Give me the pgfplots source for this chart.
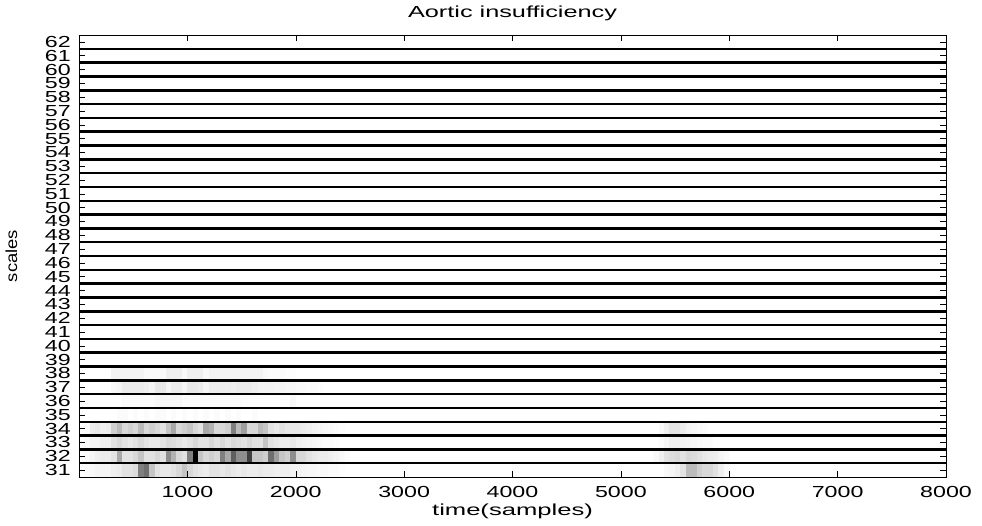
\documentclass[border=0pt]{standalone}
\usepackage{fontspec}
\setmainfont{Liberation Sans}
\usepackage{graphicx}
\usepackage{pgfplots}
\pgfplotsset{compat=1.18}
\usetikzlibrary{calc}
\newcommand\sx[1]{\scalebox{1.45}[1]{#1}}
\begin{document}
\begin{tikzpicture}
\begin{axis}[
  scale only axis, width=867pt, height=442pt,
  font=\fontsize{16}{16}\selectfont,
  xmin=0, xmax=8000, ymin=30.5, ymax=62.5,
  xtick={1000,2000,...,8000},
  xticklabels={\sx{1000},\sx{2000},\sx{3000},\sx{4000},\sx{5000},\sx{6000},\sx{7000},\sx{8000}},
  ytick={31,...,62},
  yticklabel={\sx{\pgfmathprintnumber{\tick}}},
  /pgf/number format/assume math mode=true,
  xticklabel style={anchor=base, yshift=-20pt},
  yticklabel style={anchor=east, inner sep=0pt, xshift=-8pt},
  tick align=inside, major tick length=6pt,
  tick style={black, line width=0.5pt},
  axis line style={black, line width=0.8pt},
  extra y ticks={31.5,32.5,...,61.5},
  extra y tick labels={},
  extra y tick style={grid=major, major grid style={black, line width=2.5pt}, major tick length=0pt},
  axis on top,
  colormap={bw}{color(0)=(white) color(0.5)=(black!38) color(1)=(black)},
  point meta min=0, point meta max=1,
  title={\scalebox{1.58}[1]{Aortic insufficiency}},
  title style={at={(axis description cs:0.5,1.025)}, anchor=base},
  xlabel={\scalebox{1.6}[1]{time(samples)}},
  xlabel style={at={(axis description cs:0.5,-0.0882)}, anchor=base},
  ylabel={\scalebox{1.15}[1]{scales}},
  ylabel style={at={(axis description cs:-0.0715,0.5)}, anchor=base, rotate=0},
]
\addplot[matrix plot*, mesh/cols=50, mesh/rows=8, point meta=explicit, draw=none] table[meta=c, row sep=\\] {
x y c\\
25 31 0\\ 75 31 0.02\\ 125 31 0.03\\ 175 31 0.05\\ 225 31 0.05\\
275 31 0.05\\ 325 31 0.08\\ 375 31 0.1\\ 425 31 0.15\\ 475 31 0.15\\
525 31 0.18\\ 575 31 0.6\\ 625 31 0.65\\ 675 31 0.3\\ 725 31 0.15\\
775 31 0.12\\ 825 31 0.12\\ 875 31 0.15\\ 925 31 0.2\\ 975 31 0.3\\
1025 31 0.2\\ 1075 31 0.15\\ 1125 31 0.12\\ 1175 31 0.1\\ 1225 31 0.15\\
1275 31 0.15\\ 1325 31 0.12\\ 1375 31 0.15\\ 1425 31 0.12\\ 1475 31 0.1\\
1525 31 0.12\\ 1575 31 0.1\\ 1625 31 0.1\\ 1675 31 0.12\\ 1725 31 0.1\\
1775 31 0.1\\ 1825 31 0.08\\ 1875 31 0.08\\ 1925 31 0.08\\ 1975 31 0.06\\
2025 31 0.06\\ 2075 31 0.05\\ 2125 31 0.04\\ 2175 31 0.04\\ 2225 31 0.03\\
2275 31 0.03\\ 2325 31 0.02\\ 2375 31 0.02\\ 2425 31 0.01\\ 2475 31 0\\
25 32 0\\ 75 32 0.02\\ 125 32 0.05\\ 175 32 0.08\\ 225 32 0.1\\
275 32 0.1\\ 325 32 0.15\\ 375 32 0.45\\ 425 32 0.15\\ 475 32 0.15\\
525 32 0.2\\ 575 32 0.3\\ 625 32 0.15\\ 675 32 0.15\\ 725 32 0.2\\
775 32 0.15\\ 825 32 0.55\\ 875 32 0.4\\ 925 32 0.2\\ 975 32 0.15\\
1025 32 0.6\\ 1075 32 1\\ 1125 32 0.3\\ 1175 32 0.2\\ 1225 32 0.25\\
1275 32 0.2\\ 1325 32 0.6\\ 1375 32 0.45\\ 1425 32 0.7\\ 1475 32 0.55\\
1525 32 0.55\\ 1575 32 0.8\\ 1625 32 0.3\\ 1675 32 0.3\\ 1725 32 0.25\\
1775 32 0.65\\ 1825 32 0.5\\ 1875 32 0.3\\ 1925 32 0.25\\ 1975 32 0.55\\
2025 32 0.2\\ 2075 32 0.2\\ 2125 32 0.15\\ 2175 32 0.12\\ 2225 32 0.1\\
2275 32 0.1\\ 2325 32 0.08\\ 2375 32 0.06\\ 2425 32 0.04\\ 2475 32 0.02\\
25 33 0\\ 75 33 0.02\\ 125 33 0.05\\ 175 33 0.05\\ 225 33 0.08\\
275 33 0.08\\ 325 33 0.15\\ 375 33 0.2\\ 425 33 0.15\\ 475 33 0.12\\
525 33 0.15\\ 575 33 0.2\\ 625 33 0.15\\ 675 33 0.12\\ 725 33 0.12\\
775 33 0.15\\ 825 33 0.2\\ 875 33 0.18\\ 925 33 0.15\\ 975 33 0.12\\
1025 33 0.15\\ 1075 33 0.2\\ 1125 33 0.15\\ 1175 33 0.15\\ 1225 33 0.2\\
1275 33 0.15\\ 1325 33 0.2\\ 1375 33 0.15\\ 1425 33 0.2\\ 1475 33 0.18\\
1525 33 0.15\\ 1575 33 0.2\\ 1625 33 0.15\\ 1675 33 0.15\\ 1725 33 0.3\\
1775 33 0.15\\ 1825 33 0.12\\ 1875 33 0.1\\ 1925 33 0.1\\ 1975 33 0.12\\
2025 33 0.08\\ 2075 33 0.06\\ 2125 33 0.05\\ 2175 33 0.04\\ 2225 33 0.03\\
2275 33 0.02\\ 2325 33 0.02\\ 2375 33 0.01\\ 2425 33 0\\ 2475 33 0\\
25 34 0\\ 75 34 0.02\\ 125 34 0.1\\ 175 34 0.12\\ 225 34 0.08\\
275 34 0.1\\ 325 34 0.25\\ 375 34 0.35\\ 425 34 0.2\\ 475 34 0.25\\
525 34 0.2\\ 575 34 0.35\\ 625 34 0.2\\ 675 34 0.25\\ 725 34 0.2\\
775 34 0.15\\ 825 34 0.3\\ 875 34 0.45\\ 925 34 0.2\\ 975 34 0.25\\
1025 34 0.3\\ 1075 34 0.2\\ 1125 34 0.15\\ 1175 34 0.45\\ 1225 34 0.4\\
1275 34 0.2\\ 1325 34 0.2\\ 1375 34 0.25\\ 1425 34 0.6\\ 1475 34 0.35\\
1525 34 0.5\\ 1575 34 0.2\\ 1625 34 0.2\\ 1675 34 0.35\\ 1725 34 0.3\\
1775 34 0.15\\ 1825 34 0.12\\ 1875 34 0.15\\ 1925 34 0.12\\ 1975 34 0.12\\
2025 34 0.12\\ 2075 34 0.1\\ 2125 34 0.08\\ 2175 34 0.06\\ 2225 34 0.05\\
2275 34 0.04\\ 2325 34 0.03\\ 2375 34 0.02\\ 2425 34 0.01\\ 2475 34 0\\
25 35 0\\ 75 35 0\\ 125 35 0\\ 175 35 0\\ 225 35 0\\
275 35 0\\ 325 35 0\\ 375 35 0.02\\ 425 35 0.02\\ 475 35 0\\
525 35 0.02\\ 575 35 0\\ 625 35 0.02\\ 675 35 0\\ 725 35 0.02\\
775 35 0.02\\ 825 35 0\\ 875 35 0.02\\ 925 35 0\\ 975 35 0.02\\
1025 35 0\\ 1075 35 0.02\\ 1125 35 0\\ 1175 35 0.02\\ 1225 35 0\\
1275 35 0.02\\ 1325 35 0\\ 1375 35 0.02\\ 1425 35 0\\ 1475 35 0.02\\
1525 35 0\\ 1575 35 0\\ 1625 35 0.02\\ 1675 35 0\\ 1725 35 0\\
1775 35 0\\ 1825 35 0\\ 1875 35 0\\ 1925 35 0\\ 1975 35 0\\
2025 35 0\\ 2075 35 0\\ 2125 35 0\\ 2175 35 0\\ 2225 35 0\\
2275 35 0\\ 2325 35 0\\ 2375 35 0\\ 2425 35 0\\ 2475 35 0\\
25 36 0\\ 75 36 0\\ 125 36 0\\ 175 36 0\\ 225 36 0\\
275 36 0\\ 325 36 0\\ 375 36 0\\ 425 36 0.02\\ 475 36 0.02\\
525 36 0.02\\ 575 36 0.02\\ 625 36 0.02\\ 675 36 0.02\\ 725 36 0.04\\
775 36 0.04\\ 825 36 0.04\\ 875 36 0.04\\ 925 36 0.04\\ 975 36 0.02\\
1025 36 0.02\\ 1075 36 0.02\\ 1125 36 0.02\\ 1175 36 0.02\\ 1225 36 0.02\\
1275 36 0.02\\ 1325 36 0.02\\ 1375 36 0.02\\ 1425 36 0.02\\ 1475 36 0.02\\
1525 36 0.01\\ 1575 36 0.01\\ 1625 36 0.01\\ 1675 36 0.01\\ 1725 36 0.01\\
1775 36 0.01\\ 1825 36 0.01\\ 1875 36 0.01\\ 1925 36 0.01\\ 1975 36 0.03\\
2025 36 0\\ 2075 36 0\\ 2125 36 0\\ 2175 36 0\\ 2225 36 0\\
2275 36 0\\ 2325 36 0\\ 2375 36 0\\ 2425 36 0\\ 2475 36 0\\
25 37 0\\ 75 37 0\\ 125 37 0\\ 175 37 0\\ 225 37 0\\
275 37 0\\ 325 37 0.03\\ 375 37 0.05\\ 425 37 0.1\\ 475 37 0.1\\
525 37 0.1\\ 575 37 0.1\\ 625 37 0.08\\ 675 37 0.05\\ 725 37 0.12\\
775 37 0.12\\ 825 37 0.05\\ 875 37 0.1\\ 925 37 0.1\\ 975 37 0.05\\
1025 37 0.12\\ 1075 37 0.12\\ 1125 37 0.1\\ 1175 37 0.05\\ 1225 37 0.1\\
1275 37 0.1\\ 1325 37 0.1\\ 1375 37 0.1\\ 1425 37 0.08\\ 1475 37 0.1\\
1525 37 0.1\\ 1575 37 0.1\\ 1625 37 0.08\\ 1675 37 0.06\\ 1725 37 0.06\\
1775 37 0.06\\ 1825 37 0.05\\ 1875 37 0.05\\ 1925 37 0.04\\ 1975 37 0.04\\
2025 37 0.03\\ 2075 37 0.03\\ 2125 37 0.02\\ 2175 37 0.02\\ 2225 37 0.01\\
2275 37 0\\ 2325 37 0\\ 2375 37 0\\ 2425 37 0\\ 2475 37 0\\
25 38 0\\ 75 38 0\\ 125 38 0\\ 175 38 0\\ 225 38 0\\
275 38 0\\ 325 38 0.06\\ 375 38 0.06\\ 425 38 0.06\\ 475 38 0.06\\
525 38 0.06\\ 575 38 0.06\\ 625 38 0.03\\ 675 38 0.03\\ 725 38 0.03\\
775 38 0.03\\ 825 38 0.08\\ 875 38 0.08\\ 925 38 0.08\\ 975 38 0.03\\
1025 38 0.08\\ 1075 38 0.08\\ 1125 38 0.08\\ 1175 38 0.03\\ 1225 38 0.06\\
1275 38 0.06\\ 1325 38 0.06\\ 1375 38 0.06\\ 1425 38 0.06\\ 1475 38 0.06\\
1525 38 0.06\\ 1575 38 0.06\\ 1625 38 0.06\\ 1675 38 0.06\\ 1725 38 0.03\\
1775 38 0.02\\ 1825 38 0.02\\ 1875 38 0.02\\ 1925 38 0.01\\ 1975 38 0.01\\
2025 38 0\\ 2075 38 0\\ 2125 38 0\\ 2175 38 0\\ 2225 38 0\\
2275 38 0\\ 2325 38 0\\ 2375 38 0\\ 2425 38 0\\ 2475 38 0\\
};
\addplot[matrix plot*, mesh/cols=14, mesh/rows=4, point meta=explicit, draw=none] table[meta=c, row sep=\\] {
x y c\\
5325 31 0\\ 5375 31 0\\ 5425 31 0.03\\ 5475 31 0.05\\ 5525 31 0.08\\ 5575 31 0.15\\ 5625 31 0.35\\
5675 31 0.35\\ 5725 31 0.25\\ 5775 31 0.2\\ 5825 31 0.2\\ 5875 31 0.15\\ 5925 31 0.08\\ 5975 31 0.03\\
5325 32 0.03\\ 5375 32 0.08\\ 5425 32 0.15\\ 5475 32 0.18\\ 5525 32 0.2\\ 5575 32 0.15\\ 5625 32 0.2\\
5675 32 0.18\\ 5725 32 0.15\\ 5775 32 0.12\\ 5825 32 0.1\\ 5875 32 0.08\\ 5925 32 0.05\\ 5975 32 0.03\\
5325 33 0\\ 5375 33 0.02\\ 5425 33 0.05\\ 5475 33 0.08\\ 5525 33 0.08\\ 5575 33 0.06\\ 5625 33 0.05\\
5675 33 0.04\\ 5725 33 0.03\\ 5775 33 0.02\\ 5825 33 0.02\\ 5875 33 0\\ 5925 33 0\\ 5975 33 0\\
5325 34 0\\ 5375 34 0.03\\ 5425 34 0.08\\ 5475 34 0.15\\ 5525 34 0.15\\ 5575 34 0.1\\ 5625 34 0.06\\
5675 34 0.04\\ 5725 34 0.03\\ 5775 34 0.02\\ 5825 34 0\\ 5875 34 0\\ 5925 34 0\\ 5975 34 0\\
};
\end{axis}
\pgfresetboundingbox
\path ($(current axis.south west)+(-79pt,-48pt)$) rectangle ($(current axis.north east)+(36pt,35pt)$);
\end{tikzpicture}
\end{document}
